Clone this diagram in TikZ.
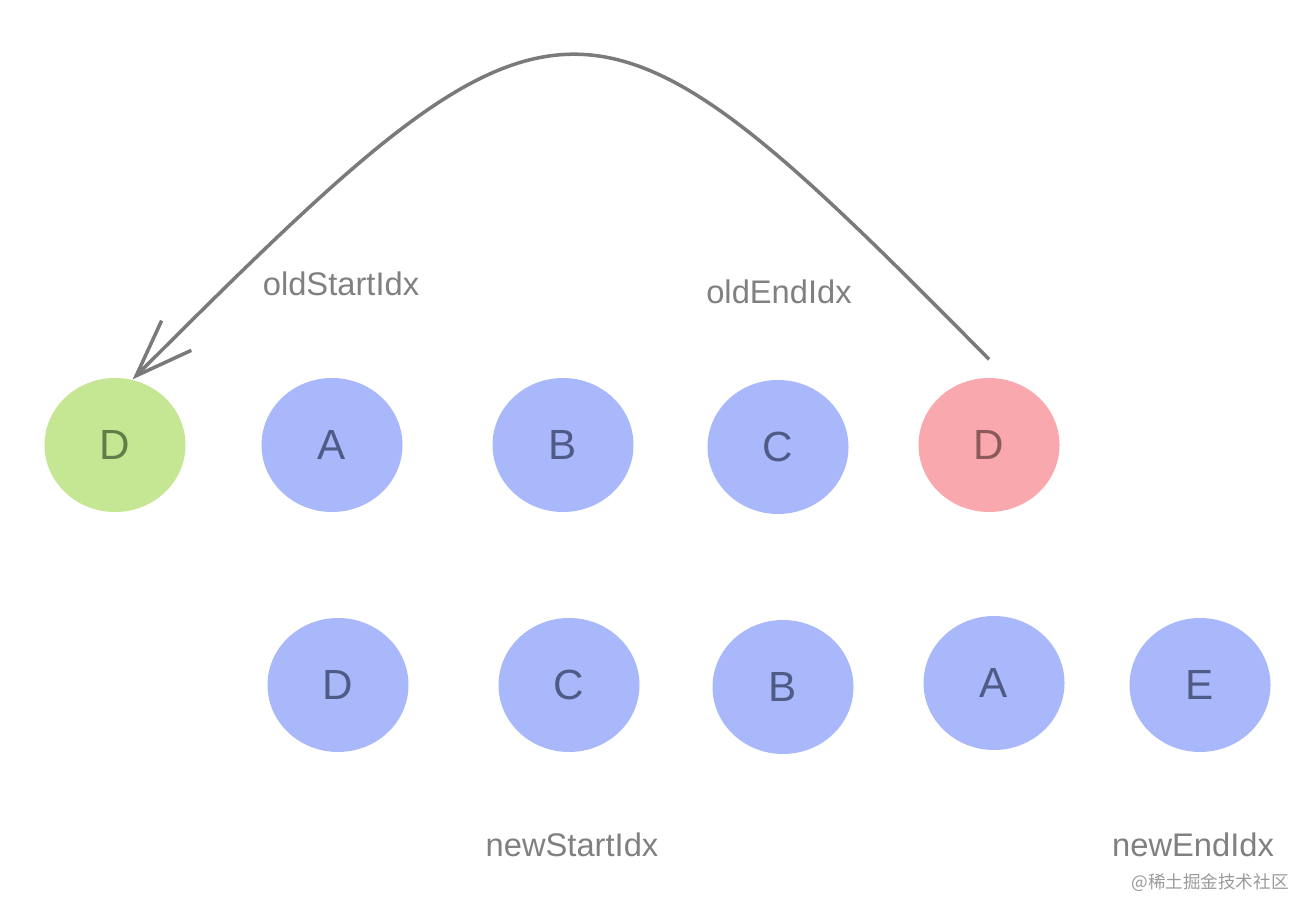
\documentclass[tikz,border=0pt]{standalone}
\usepackage{fontspec}
\setmainfont{Liberation Sans}
\newfontfamily\cjk{Noto Sans CJK SC}
\usetikzlibrary{shapes.geometric,arrows.meta}
\definecolor{blobblue}{HTML}{A8B8FA}
\definecolor{blobgreen}{HTML}{C5E693}
\definecolor{blobred}{HTML}{F9A9AD}
\definecolor{txtblue}{HTML}{4F5B86}
\definecolor{txtgreen}{HTML}{5F7F48}
\definecolor{txtred}{HTML}{8C5A5A}
\definecolor{labelgray}{HTML}{808080}
\tikzset{
  blob/.style={ellipse, minimum width=1.41cm, minimum height=1.34cm,
    inner sep=0pt, font=\fontsize{12}{14}\selectfont},
  blueblob/.style={blob, fill=blobblue, text=txtblue},
  idx/.style={text=labelgray, font=\fontsize{9.3}{11}\selectfont}
}
\begin{document}
\begin{tikzpicture}
                \useasboundingbox (0,0) rectangle (13.14,9.18);

                % old children
                \node[blob, fill=blobgreen, text=txtgreen] (movedD) at (1.15,4.73) {D};
                \node[blueblob] (oldA) at (3.32,4.73) {A};
                \node[blueblob] (oldB) at (5.63,4.73) {B};
                \node[blueblob] (oldC) at (7.78,4.71) {C};
                \node[blob, fill=blobred, text=txtred] (oldD) at (9.89,4.73) {D};

                % new children
                \node[blueblob] (newD) at (3.38,2.33) {D};
                \node[blueblob] (newC) at (5.69,2.33) {C};
                \node[blueblob] (newB) at (7.83,2.31) {B};
                \node[blueblob] (newA) at (9.94,2.35) {A};
                \node[blueblob] (newE) at (12.00,2.33) {E};

                % pointers
                \node[idx] (oldStart) at (3.41,6.34) {oldStartIdx};
                \node[idx] (oldEnd) at (7.79,6.26) {oldEndIdx};
                \node[idx] (newStart) at (5.72,0.73) {newStartIdx};
                \node[idx] (newEnd) at (11.93,0.73) {newEndIdx};

                \draw[color=labelgray!95!black, line width=1pt,
                      -{Straight Barb[length=0.57cm, width=0.42cm, line width=1pt]}]
                    ([yshift=0.18cm]oldD.north) .. controls (5.85,9.68) and (5.62,9.68)
                    .. (movedD.75);

                \node[text=labelgray!80, font=\cjk\fontsize{5}{6}\selectfont]
                    (mark) at (12.10,0.35) {@稀土掘金技术社区};
\end{tikzpicture}
\end{document}
